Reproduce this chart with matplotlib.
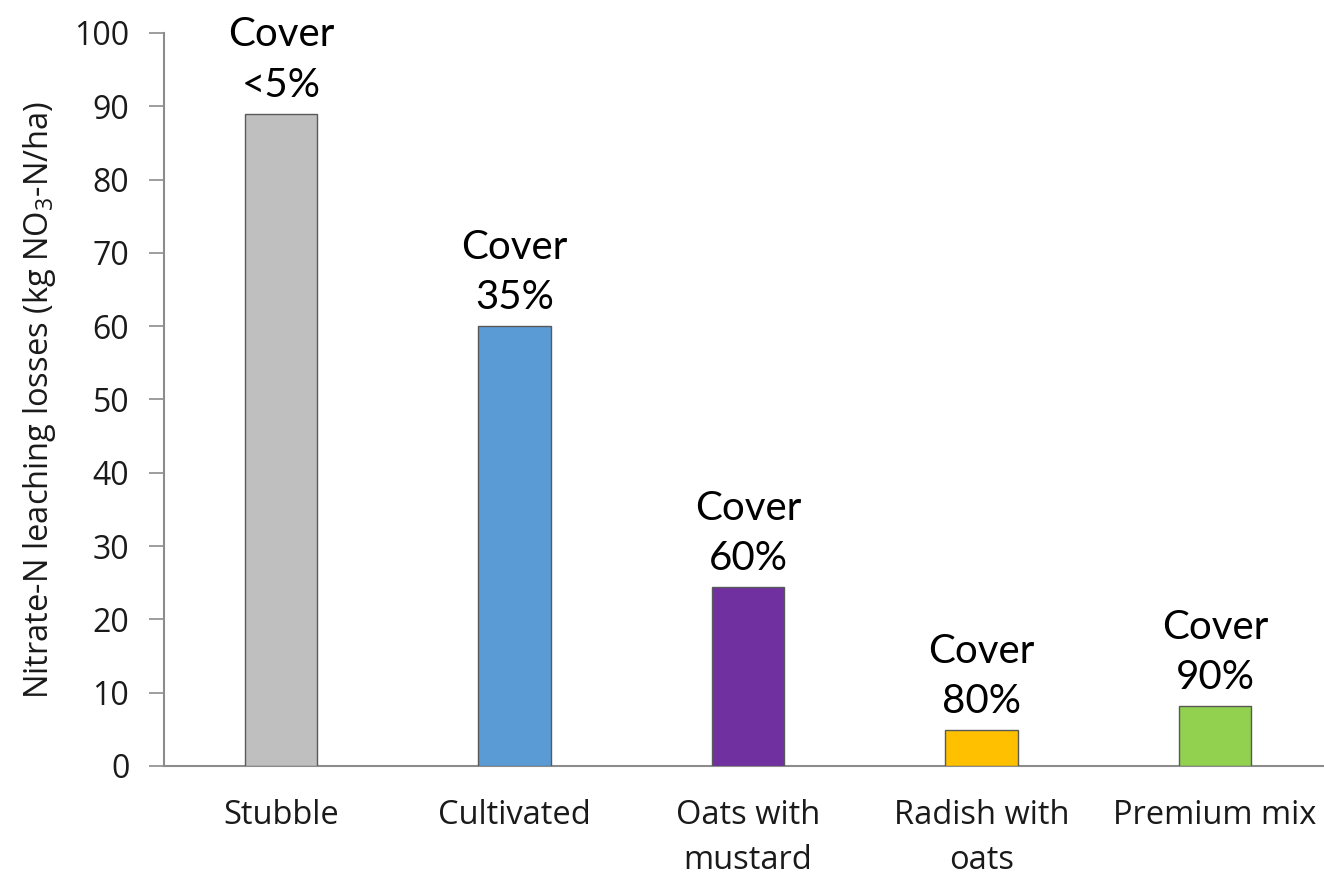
import matplotlib
matplotlib.use('Agg')
import matplotlib.pyplot as plt
import numpy as np

# nitrate leaching by ground cover treatment
categories = ['Stubble', 'Cultivated', 'Oats with\nmustard', 'Radish with\noats', 'Premium mix']
leaching = [89, 60, 24.4, 4.9, 8.2]
cover_labels = ['Cover\n<5%', 'Cover\n35%', 'Cover\n60%', 'Cover\n80%', 'Cover\n90%']
colors = ['#BFBFBF', '#5B9BD5', '#7030A0', '#FFC000', '#92D050']

plt.rcParams['font.family'] = ['Open Sans', 'DejaVu Sans']
plt.rcParams['mathtext.fontset'] = 'custom'
plt.rcParams['mathtext.rm'] = 'Open Sans'

fig = plt.figure(figsize=(13.24, 8.77), dpi=100)
ax = fig.add_axes([0.1239, 0.1266, 0.8821, 0.8358])

x = np.arange(len(categories))
bars = ax.bar(x, leaching, 0.31, color=colors, edgecolor='#595959', linewidth=1.0, zorder=3)

for rect, lab in zip(bars, cover_labels):
    ax.annotate(lab, (rect.get_x() + rect.get_width() / 2, rect.get_height()),
                xytext=(0, 7), textcoords='offset points', ha='center', va='bottom',
                fontsize=29, family=['Lato', 'DejaVu Sans'], linespacing=1.45,
                color='black', annotation_clip=False)

ax.set_xlim(-0.5, len(categories) - 0.5)
ax.set_ylim(0, 100)
ax.set_yticks(np.arange(0, 101, 10))
ax.set_xticks(x)
ax.set_xticklabels(categories, fontsize=23.5, color='#1a1a1a', linespacing=1.45)
ax.tick_params(axis='y', labelsize=23, colors='#1a1a1a', length=11, width=1.2,
               color='#8C8C8C', pad=14)
ax.tick_params(axis='x', length=0, pad=24)

for s in ['top', 'right']:
    ax.spines[s].set_visible(False)
for s in ['left', 'bottom']:
    ax.spines[s].set_color('#8C8C8C')
    ax.spines[s].set_linewidth(1.5)

ax.set_ylabel(r'Nitrate-N leaching losses (kg NO$_3$-N/ha)', fontsize=23.5,
              color='#1a1a1a', labelpad=12)

fig.savefig('out.png', dpi=100)
